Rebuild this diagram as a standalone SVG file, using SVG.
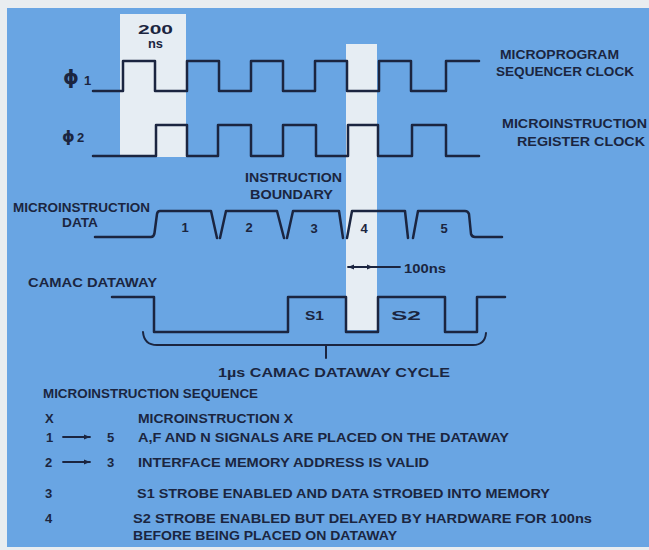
<svg xmlns="http://www.w3.org/2000/svg" width="649" height="550" viewBox="0 0 649 550">
<defs>
<style>
.t{font-family:"Liberation Sans",Arial,sans-serif;font-weight:bold;fill:#1b2540;font-size:13px}
.phi{font-family:"DejaVu Sans",sans-serif;font-weight:bold;fill:#1b2540}
.w{fill:none;stroke:#1b2540;stroke-width:2.5;stroke-linejoin:round;stroke-linecap:round}
.c{fill:none;stroke:#1b2540;stroke-width:1.8;stroke-linecap:round}
.band{fill:#e6edf3}
</style>
<marker id="ah" viewBox="0 0 10 10" refX="10" refY="5" markerWidth="8" markerHeight="6" markerUnits="userSpaceOnUse" orient="auto-start-reverse">
<path d="M0,1 L10,5 L0,9 Z" fill="#1b2540"/>
</marker>
</defs>
<rect x="0" y="0" width="649" height="550" fill="#e9edf0"/>
<rect x="7" y="8" width="642" height="539" fill="#69a5e3"/>
<rect class="band" x="120" y="14" width="66" height="143"/>
<rect class="band" x="346" y="44" width="31" height="286"/>

<g id="timing-200ns">
<text class="t" x="138" y="34" font-size="16" textLength="35" lengthAdjust="spacingAndGlyphs">200</text>
<text class="t" x="148" y="48" font-size="12" textLength="15" lengthAdjust="spacingAndGlyphs">ns</text>
</g>

<g id="phi1">
<text class="phi" x="63" y="84" font-size="20">ϕ</text>
<text class="t" x="84" y="85" font-size="13">1</text>
<path class="w" d="M93,91 H123 V61 H155 V91 H187 V61 H219 V91 H251 V61 H283 V91 H315 V61 H347 V91 H379 V61 H411 V91 H446 V61 H479"/>
<text class="t" x="500" y="59" textLength="119" lengthAdjust="spacingAndGlyphs">MICROPROGRAM</text>
<text class="t" x="496" y="76" textLength="138" lengthAdjust="spacingAndGlyphs">SEQUENCER CLOCK</text>
</g>

<g id="phi2">
<text class="phi" x="62" y="142" font-size="16">ϕ</text>
<text class="t" x="77" y="142" font-size="13">2</text>
<path class="w" d="M93,156 H156 V125 H187 V156 H218 V125 H251 V156 H283 V125 H316 V156 H348 V125 H378 V156 H412 V125 H446 V156 H479"/>
<text class="t" x="502" y="128" font-size="14" textLength="145" lengthAdjust="spacingAndGlyphs">MICROINSTRUCTION</text>
<text class="t" x="517" y="146" font-size="14" textLength="128" lengthAdjust="spacingAndGlyphs">REGISTER CLOCK</text>
</g>

<g id="instruction-boundary">
<text class="t" x="245" y="182" textLength="97" lengthAdjust="spacingAndGlyphs">INSTRUCTION</text>
<text class="t" x="250" y="199" textLength="83" lengthAdjust="spacingAndGlyphs">BOUNDARY</text>
</g>

<g id="microinstruction-data">
<text class="t" x="13" y="212" textLength="137" lengthAdjust="spacingAndGlyphs">MICROINSTRUCTION</text>
<text class="t" x="62" y="227" textLength="36" lengthAdjust="spacingAndGlyphs">DATA</text>
<path class="w" d="M95,237 H151 Q154,237 154.5,233 L157,214 Q157.5,211 160,211 H211 L217,238 M220,238 L226,211 H277 L284,238 M287,238 L293,211 H339 L343,238 M347,238 L352,211 H405 L408,238 M413,238 L418,211 H465 Q468,211 469,214 L471,234 Q472,237 475,237 H502"/>
<text class="t" x="185" y="232" text-anchor="middle">1</text>
<text class="t" x="249" y="232" text-anchor="middle">2</text>
<text class="t" x="314" y="233" text-anchor="middle">3</text>
<text class="t" x="364" y="233" text-anchor="middle">4</text>
<text class="t" x="444" y="233" text-anchor="middle">5</text>
</g>

<g id="camac-dataway">
<text class="t" x="28" y="287" textLength="129" lengthAdjust="spacingAndGlyphs">CAMAC DATAWAY</text>
<path class="w" d="M112,297 H154 V332 H288 V297 H346 V332 H378 V297 H445 V332 H477 V297 H505"/>
<text class="t" x="305" y="320" textLength="19" lengthAdjust="spacingAndGlyphs">S1</text>
<text class="t" x="391" y="320" textLength="30" lengthAdjust="spacingAndGlyphs">S2</text>
</g>

<g id="connectors">
<path class="c" d="M348,267 H373" marker-start="url(#ah)" marker-end="url(#ah)"/>
<path class="c" d="M373,267 H400"/>
<path class="w" style="stroke-width:2" d="M143,332 Q144,345 157,345 H473 Q485,345 486,333 M326,345 V358"/>
<path class="c" d="M63,437 H90" marker-end="url(#ah)"/>
<path class="c" d="M63,462 H90" marker-end="url(#ah)"/>
</g>

<g id="labels">
<text class="t" x="404" y="273" textLength="42" lengthAdjust="spacingAndGlyphs">100ns</text>
<text class="t" x="218" y="377" font-size="14" textLength="232" lengthAdjust="spacingAndGlyphs">1µs CAMAC DATAWAY CYCLE</text>
</g>

<g id="legend">
<text class="t" x="43" y="398" textLength="215" lengthAdjust="spacingAndGlyphs">MICROINSTRUCTION SEQUENCE</text>
<text class="t" x="45" y="423">X</text>
<text class="t" x="138" y="423" textLength="155" lengthAdjust="spacingAndGlyphs">MICROINSTRUCTION X</text>
<text class="t" x="46" y="442">1</text>
<text class="t" x="107" y="442">5</text>
<text class="t" x="138" y="442" textLength="371" lengthAdjust="spacingAndGlyphs">A,F AND N SIGNALS ARE PLACED ON THE DATAWAY</text>
<text class="t" x="45" y="467">2</text>
<text class="t" x="107" y="467">3</text>
<text class="t" x="138" y="467" textLength="291" lengthAdjust="spacingAndGlyphs">INTERFACE MEMORY ADDRESS IS VALID</text>
<text class="t" x="45" y="498">3</text>
<text class="t" x="137" y="498" textLength="413" lengthAdjust="spacingAndGlyphs">S1 STROBE ENABLED AND DATA STROBED INTO MEMORY</text>
<text class="t" x="45" y="523">4</text>
<text class="t" x="133" y="523" textLength="459" lengthAdjust="spacingAndGlyphs">S2 STROBE ENABLED BUT DELAYED BY HARDWARE FOR 100ns</text>
<text class="t" x="133" y="540" textLength="264" lengthAdjust="spacingAndGlyphs">BEFORE BEING PLACED ON DATAWAY</text>
</g>
</svg>
